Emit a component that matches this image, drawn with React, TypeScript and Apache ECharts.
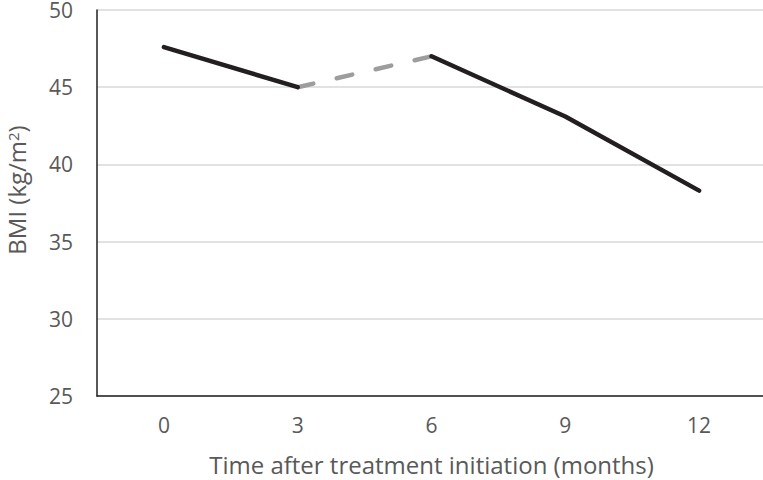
import React, { useEffect, useRef } from "react";
import * as echarts from "echarts";

const months = ["0", "3", "6", "9", "12"];
const bmi = [47.6, 45.0, 47.0, 43.1, 38.3];
const solidFirst = [true, true, false, false, false];
const dashedPart = [false, true, true, false, false];
const solidSecond = [false, false, true, true, true];
const yTicks = { min: 25, max: 50, interval: 5 };

const mask = (flags: boolean[]) => bmi.map((v, i) => (flags[i] ? v : null));

export default function App() {
  const ref = useRef<HTMLDivElement>(null);
  useEffect(() => {
    document.body.style.margin = "0";
    const chart = echarts.init(ref.current!, undefined, { renderer: "svg" });
    const font = "'Open Sans', sans-serif";
    const black = "#231f20";
    const gray = "#595959";
    chart.setOption({
      animation: false,
      grid: {
        left: 97,
        top: 10,
        width: 669,
        bottom: 84,
        containLabel: false,
        outerBoundsMode: "none",
      },
      xAxis: {
        type: "category",
        data: months,
        boundaryGap: true,
        axisLine: { show: true, lineStyle: { color: black, width: 1.5 } },
        axisTick: { show: false },
        axisLabel: { color: gray, fontSize: 21, fontFamily: font, margin: 18 },
        name: "Time after treatment initiation (months)",
        nameLocation: "middle",
        nameGap: 56,
        nameTextStyle: { color: gray, fontSize: 24, lineHeight: 24, fontFamily: font },
        splitLine: { show: false },
      },
      yAxis: {
        type: "value",
        min: yTicks.min,
        max: yTicks.max,
        interval: yTicks.interval,
        axisLine: { show: true, lineStyle: { color: black, width: 1.5 } },
        axisTick: { show: false },
        axisLabel: { color: gray, fontSize: 21, fontFamily: font, margin: 24 },
        splitLine: { show: true, lineStyle: { color: "#d9d9d9", width: 1.5 } },
        name: "BMI (kg/m{sup|2})",
        nameLocation: "middle",
        nameGap: 70,
        nameRotate: 90,
        nameTextStyle: {
          color: gray,
          fontSize: 24,
          lineHeight: 22,
          fontFamily: font,
          padding: [0, 0, 0, 26],
          rich: {
            sup: {
              color: gray,
              fontSize: 15,
              lineHeight: 22,
              fontFamily: font,
              verticalAlign: "top",
            },
          },
        },
      },
      series: [
        {
          type: "line",
          data: mask(dashedPart),
          showSymbol: false,
          connectNulls: false,
          lineStyle: { color: "#9d9d9d", width: 4.5, type: [16, 24], cap: "round" },
          z: 2,
        },
        {
          type: "line",
          data: mask(solidFirst),
          showSymbol: false,
          connectNulls: false,
          lineStyle: { color: black, width: 4.5, cap: "round", join: "round" },
          z: 3,
        },
        {
          type: "line",
          data: mask(solidSecond),
          showSymbol: false,
          connectNulls: false,
          lineStyle: { color: black, width: 4.5, cap: "round", join: "round" },
          z: 3,
        },
      ],
    });
    return () => chart.dispose();
  }, []);
  return <div ref={ref} style={{ width: 763, height: 480 }} />;
}
